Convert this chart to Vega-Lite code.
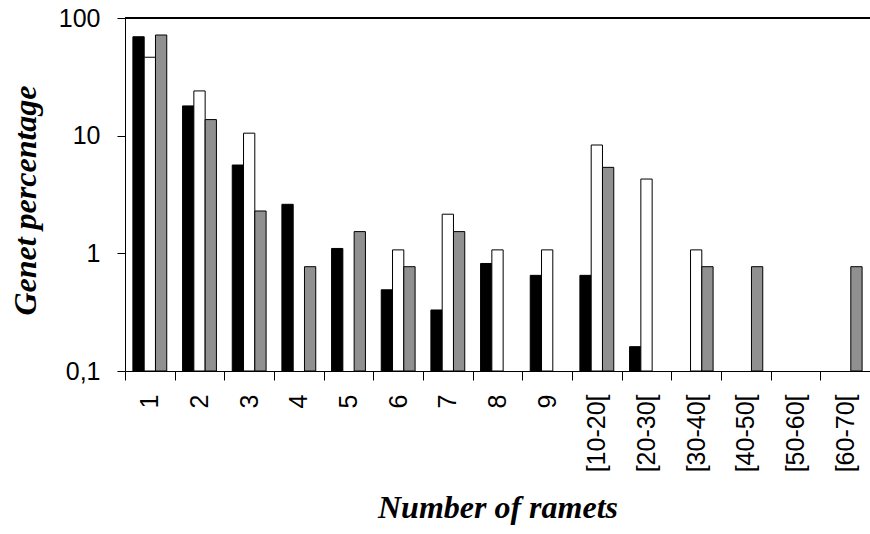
{
  "$schema": "https://vega.github.io/schema/vega-lite/v6.json",
  "width": 745,
  "height": 353,
  "autosize": {"type": "none"},
  "padding": {"left": 125, "top": 18, "right": 0, "bottom": 163},
  "background": "white",
  "data": {
    "values": [
      {"cat": "1", "series": "Series 1", "value": 69.3},
      {"cat": "1", "series": "Series 2", "value": 46.4},
      {"cat": "1", "series": "Series 3", "value": 71.7},
      {"cat": "2", "series": "Series 1", "value": 17.9},
      {"cat": "2", "series": "Series 2", "value": 24.0},
      {"cat": "2", "series": "Series 3", "value": 13.7},
      {"cat": "3", "series": "Series 1", "value": 5.63},
      {"cat": "3", "series": "Series 2", "value": 10.5},
      {"cat": "3", "series": "Series 3", "value": 2.29},
      {"cat": "4", "series": "Series 1", "value": 2.61},
      {"cat": "4", "series": "Series 3", "value": 0.77},
      {"cat": "5", "series": "Series 1", "value": 1.1},
      {"cat": "5", "series": "Series 3", "value": 1.53},
      {"cat": "6", "series": "Series 1", "value": 0.49},
      {"cat": "6", "series": "Series 2", "value": 1.07},
      {"cat": "6", "series": "Series 3", "value": 0.77},
      {"cat": "7", "series": "Series 1", "value": 0.33},
      {"cat": "7", "series": "Series 2", "value": 2.15},
      {"cat": "7", "series": "Series 3", "value": 1.53},
      {"cat": "8", "series": "Series 1", "value": 0.82},
      {"cat": "8", "series": "Series 2", "value": 1.07},
      {"cat": "9", "series": "Series 1", "value": 0.65},
      {"cat": "9", "series": "Series 2", "value": 1.07},
      {"cat": "[10-20[", "series": "Series 1", "value": 0.65},
      {"cat": "[10-20[", "series": "Series 2", "value": 8.33},
      {"cat": "[10-20[", "series": "Series 3", "value": 5.38},
      {"cat": "[20-30[", "series": "Series 1", "value": 0.161},
      {"cat": "[20-30[", "series": "Series 2", "value": 4.28},
      {"cat": "[30-40[", "series": "Series 2", "value": 1.07},
      {"cat": "[30-40[", "series": "Series 3", "value": 0.77},
      {"cat": "[40-50[", "series": "Series 3", "value": 0.77},
      {"cat": "[60-70[", "series": "Series 3", "value": 0.77}
    ]
  },
  "config": {
    "view": {"stroke": null},
    "axis": {
      "domainColor": "black",
      "tickColor": "black",
      "labelColor": "black",
      "titleColor": "black",
      "labelFont": "Liberation Sans",
      "labelFontSize": 25,
      "titleFont": "Liberation Serif",
      "titleFontStyle": "italic",
      "titleFontWeight": "bold",
      "titleFontSize": 32,
      "grid": false
    }
  },
  "layer": [
    {
      "mark": {"type": "bar", "stroke": "black", "strokeWidth": 1},
      "encoding": {
        "x": {
          "field": "cat",
          "type": "nominal",
          "scale": {
            "domain": ["1", "2", "3", "4", "5", "6", "7", "8", "9", "[10-20[", "[20-30[", "[30-40[", "[40-50[", "[50-60[", "[60-70["],
            "paddingInner": 0,
            "paddingOuter": 0
          },
          "axis": {
            "title": "Number of ramets",
            "labelAngle": -90,
            "tickBand": "extent",
            "tickSize": 9,
            "labelPadding": 14,
            "titlePadding": 21
          }
        },
        "xOffset": {
          "field": "series",
          "type": "nominal",
          "scale": {"domain": ["Series 1", "Series 2", "Series 3"], "paddingInner": 0, "paddingOuter": 0.7}
        },
        "y": {
          "field": "value",
          "type": "quantitative",
          "scale": {"type": "log", "domain": [0.1, 100]},
          "axis": {
            "title": "Genet percentage",
            "values": [0.1, 1, 10, 100],
            "format": "~g",
            "labelExpr": "replace(datum.label, '.', ',')",
            "tickSize": 8,
            "labelPadding": 17,
            "titleX": -100,
            "titleY": 182,
            "titleBaseline": "middle",
            "titleAlign": "center",
            "titleAngle": -90
          }
        },
        "y2": {"datum": 0.1},
        "color": {
          "field": "series",
          "type": "nominal",
          "scale": {"domain": ["Series 1", "Series 2", "Series 3"], "range": ["black", "white", "#909090"]},
          "legend": null
        }
      }
    },
    {
      "mark": {"type": "rule", "color": "black", "strokeWidth": 1},
      "encoding": {"y": {"datum": 100}}
    }
  ]
}
